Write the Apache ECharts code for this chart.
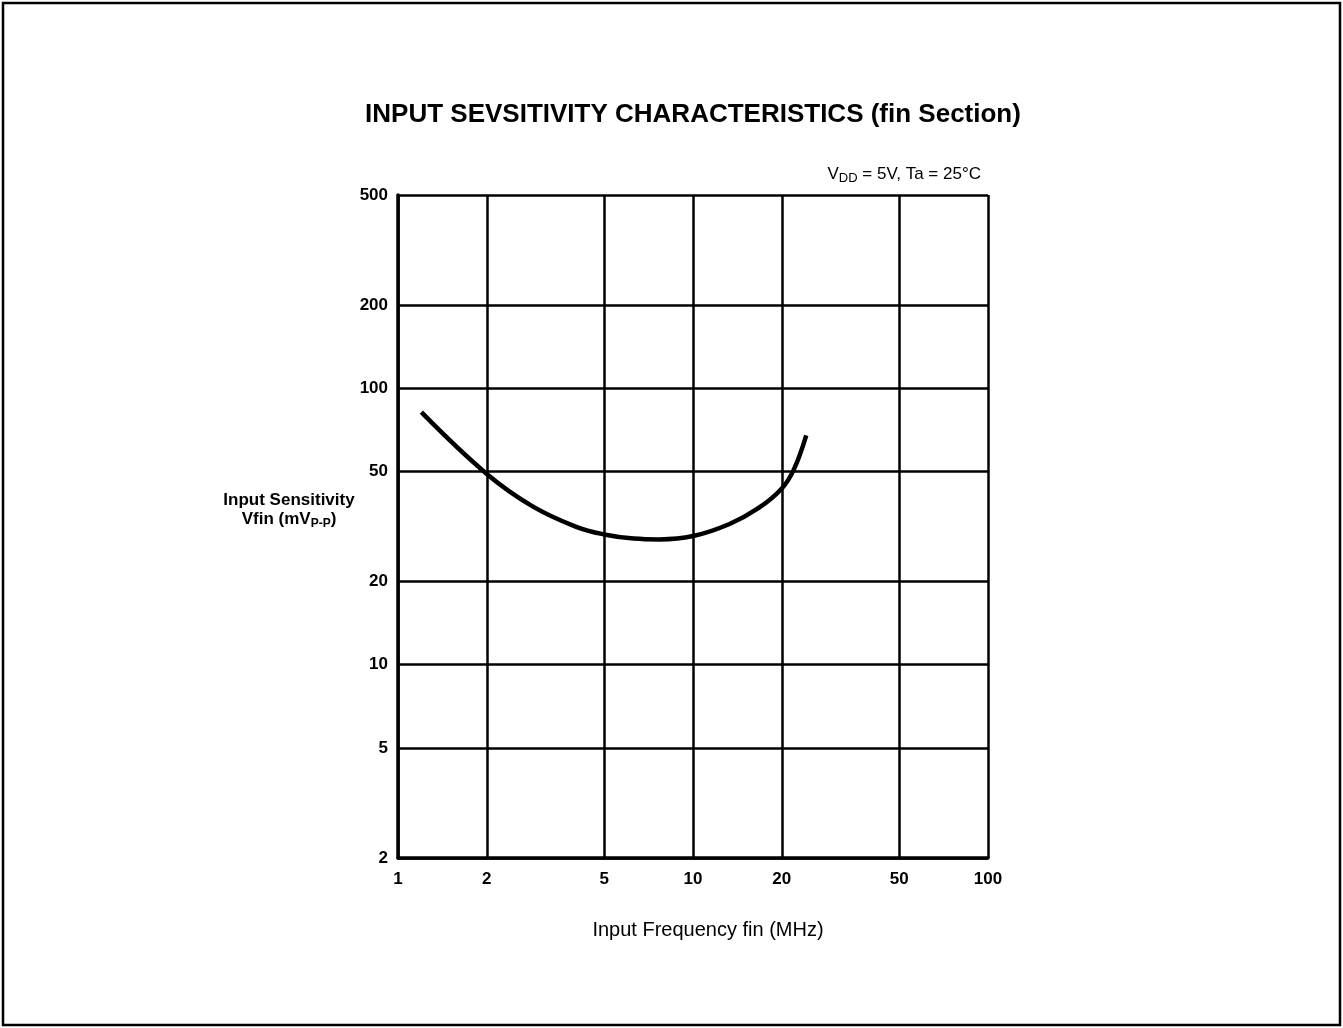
<!DOCTYPE html>
<html>
<head>
<meta charset="utf-8">
<script src="https://cdn.jsdelivr.net/npm/echarts@6/dist/echarts.min.js"></script>
<style>
html,body{margin:0;padding:0;background:#fff;}
#c{width:1343px;height:1028px;}
</style>
</head>
<body>
<div id="c"></div>
<script>
const xTicks = [1, 2, 5, 10, 20, 50, 100];
const yTicks = [2, 5, 10, 20, 50, 100, 200, 500];
const freqMHz = [1.2, 2, 2.86, 4, 5, 6.3, 7.7, 10, 13.3, 16.7, 20, 22, 24.2];
const sensitivity = [82, 49, 37.4, 31.6, 29.6, 28.6, 28.4, 29.2, 32.3, 36.9, 43.4, 51, 67.6];

const FONT = '"Liberation Sans", Arial, Helvetica, sans-serif';
const chart = echarts.init(document.getElementById('c'), null, {renderer: 'canvas'});
const lineStyleGrid = {color: '#000', width: 2.5};

chart.setOption({
  backgroundColor: '#fff',
  animation: false,
  title: [
    {text: 'INPUT SEVSITIVITY CHARACTERISTICS (fin Section)', left: 688, top: 97, textAlign: 'center',
     textStyle: {fontFamily: FONT, fontWeight: 'bold', fontSize: 26, color: '#000'}},
    {text: '{n|V}{s|DD}{n| = 5V, Ta = 25°C}', right: 357, top: 158,
     textStyle: {fontWeight: 'normal',
                 rich: {n: {fontFamily: FONT, fontSize: 17, fontWeight: 'normal', color: '#000'},
                        s: {fontFamily: FONT, fontSize: 13, fontWeight: 'normal', color: '#000', padding: [9,0,0,0]}}}},
    {text: '{n|Input Sensitivity}\n{n|Vfin (mV}{s|P-P}{n|)}', left: 284, top: 486, textAlign: 'center',
     textStyle: {rich: {n: {fontFamily: FONT, fontSize: 17, color: '#000', fontWeight: 'bold', lineHeight: 19, align: 'center'},
                        s: {fontFamily: FONT, fontSize: 12, color: '#000', fontWeight: 'bold', padding: [8,0,0,0], lineHeight: 19}}}},
    {text: 'Input Frequency fin (MHz)', left: 703, top: 915, textAlign: 'center',
     textStyle: {fontFamily: FONT, fontSize: 20, fontWeight: 'normal', color: '#000'}}
  ],
  graphic: [
    {type: 'rect', shape: {x: 3, y: 3, width: 1337, height: 1022}, style: {fill: 'none', stroke: '#000', lineWidth: 2.5}, z: 100}
  ],
  grid: {left: 398, top: 195, width: 590, height: 663, show: false},
  xAxis: {
    type: 'log', logBase: 10, min: 1, max: 100,
    axisLine: {show: true, onZero: false, lineStyle: {color: '#000', width: 3.5}},
    axisTick: {show: false, customValues: xTicks},
    axisLabel: {customValues: xTicks, color: '#000', fontFamily: FONT, fontWeight: 'bold', fontSize: 17, margin: 13,
                formatter: v => String(v)},
    splitLine: {show: true, lineStyle: lineStyleGrid},
    minorSplitLine: {show: false}
  },
  yAxis: {
    type: 'log', logBase: 10, min: 2, max: 500,
    axisLine: {show: true, onZero: false, lineStyle: {color: '#000', width: 3.5}},
    axisTick: {show: false, customValues: yTicks},
    axisLabel: {customValues: yTicks, color: '#000', fontFamily: FONT, fontWeight: 'bold', fontSize: 17, margin: 10,
                formatter: v => String(v)},
    splitLine: {show: true, lineStyle: lineStyleGrid}
  },
  series: [{
    type: 'line',
    data: freqMHz.map((f, i) => [f, sensitivity[i]]),
    smooth: 0.4,
    showSymbol: false,
    lineStyle: {color: '#000', width: 4.5},
    z: 10
  }]
});
</script>
</body>
</html>
